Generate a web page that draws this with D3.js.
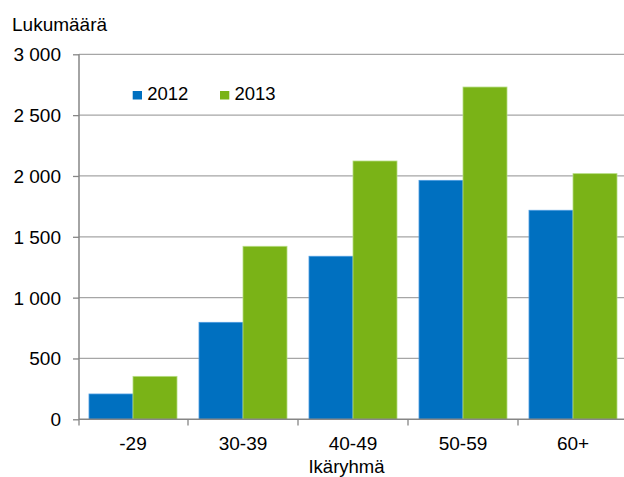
<!DOCTYPE html>
<html><head><meta charset="utf-8">
<script src="https://cdn.jsdelivr.net/npm/d3@7"></script>
<style>body{margin:0;background:#fff}svg{display:block}text{font-family:"Liberation Sans",Arial,sans-serif;fill:#000}</style>
</head><body><svg id="c" width="624" height="477"></svg>
<script>
const categories = ["-29","30-39","40-49","50-59","60+"];
const seriesNames = ["2012","2013"];
const values2012 = [208, 797, 1340, 1964, 1718];
const values2013 = [353, 1422, 2123, 2731, 2019];
const yTicks = [0,500,1000,1500,2000,2500,3000];
const colors = ["#0070C0","#7AB317"];

const svg = d3.select("#c");
const x0 = d3.scaleBand().domain(categories).range([78,628]).paddingInner(0.2).paddingOuter(0.1);
const x1 = d3.scaleBand().domain(seriesNames).range([0,x0.bandwidth()]);
const y = d3.scaleLinear().domain([0,3000]).range([419.3,54.3]);
const fmt = v => v>=1000 ? Math.floor(v/1000)+" "+String(v%1000).padStart(3,"0") : String(v);

// gridlines
svg.append("g").selectAll("line").data(yTicks.filter(d=>d>0)).join("line")
  .attr("x1",79).attr("x2",624).attr("y1",d=>y(d)).attr("y2",d=>y(d))
  .attr("stroke","#a6a6a6").attr("stroke-width",1.3);

// bars
const data = categories.map((c,i)=>({c, v:[values2012[i], values2013[i]]}));
const g = svg.append("g");
data.forEach(d=>{
  seriesNames.forEach((s,j)=>{
    g.append("rect").attr("x",x0(d.c)+x1(s)).attr("y",y(d.v[j]))
     .attr("width",x1.bandwidth()).attr("height",y(0)-y(d.v[j]))
     .attr("fill",colors[j]).attr("stroke", j===0?"#4a9be0":"#b5dd80").attr("stroke-width",0.8);
  });
});

// y axis
const ya = svg.append("g").attr("transform","translate(79,0)")
  .call(d3.axisLeft(y).tickValues(yTicks).tickFormat(fmt).tickSize(6).tickPadding(12));
ya.select(".domain").attr("stroke","#868686").attr("stroke-width",1.5).attr("d","M0,54.3V419.3");
ya.selectAll(".tick line").attr("stroke","#868686").attr("stroke-width",1.3);
ya.selectAll(".tick text").attr("font-size",19).attr("dy","0.34em");

// x axis
const xa = svg.append("g").attr("transform","translate(0,419.3)")
  .call(d3.axisBottom(x0).tickSize(0).tickPadding(17));
xa.select(".domain").attr("stroke","#868686").attr("stroke-width",1.5).attr("d","M79,0H624");
xa.selectAll(".tick text").attr("font-size",19);
// category separator ticks
const seps = categories.map(c=>x0(c)-x0.step()*x0.paddingInner()/2);
seps[0]=79;
svg.append("g").selectAll("line").data(seps).join("line")
  .attr("x1",d=>d).attr("x2",d=>d).attr("y1",419.3).attr("y2",425.5)
  .attr("stroke","#868686").attr("stroke-width",1.3);

// titles
svg.append("text").attr("x",12).attr("y",30.5).attr("font-size",19).text("Lukumäärä");
svg.append("text").attr("x",346.5).attr("y",472.5).attr("text-anchor","middle").attr("font-size",18.5).text("Ikäryhmä");

// legend
const legX = [132.7, 220];
seriesNames.forEach((s,j)=>{
  svg.append("rect").attr("x",legX[j]).attr("y",91).attr("width",9.3).attr("height",8.5).attr("fill",colors[j]);
  svg.append("text").attr("x",legX[j]+14.5).attr("y",100).attr("font-size",18.5).text(s);
});
</script></body></html>
